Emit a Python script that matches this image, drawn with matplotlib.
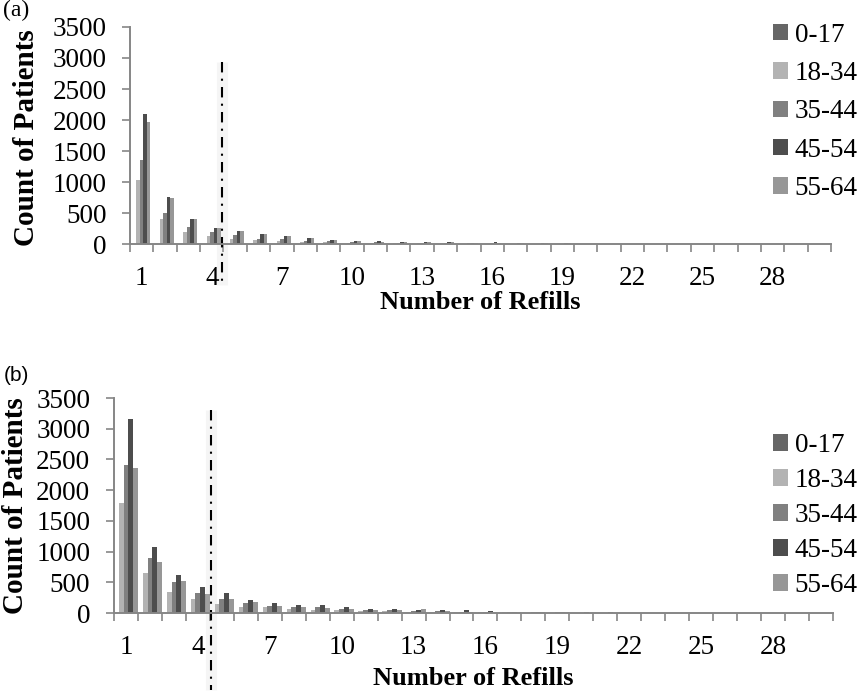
import matplotlib
matplotlib.use("Agg")
import matplotlib.pyplot as plt
import numpy as np

refills = list(range(1, 31))
age_groups = ["0-17", "18-34", "35-44", "45-54", "55-64"]
colors = ["#666666", "#b3b3b3", "#808080", "#4d4d4d", "#979797"]

# Panel (a)
a_0_17 = [6, 3, 2, 2, 1, 1, 1, 1, 0, 0, 0, 0, 0, 0, 0, 0, 0, 0, 0, 0, 0, 0, 0, 0, 0, 0, 0, 0, 0, 0]
a_18_34 = [1040, 410, 200, 130, 85, 65, 50, 40, 30, 22, 18, 15, 12, 10, 8, 6, 5, 4, 3, 3, 2, 2, 1, 1, 1, 1, 0, 0, 0, 0]
a_35_44 = [1360, 500, 270, 200, 145, 80, 75, 55, 45, 35, 28, 22, 18, 15, 12, 10, 8, 6, 5, 4, 3, 3, 2, 2, 1, 1, 1, 0, 0, 0]
a_45_54 = [2090, 760, 410, 260, 205, 165, 130, 95, 65, 53, 43, 37, 37, 28, 22, 25, 15, 15, 10, 8, 6, 5, 4, 3, 2, 2, 1, 1, 1, 0]
a_55_64 = [1970, 750, 410, 260, 205, 165, 125, 90, 65, 50, 40, 35, 32, 25, 20, 20, 14, 12, 9, 7, 5, 4, 3, 3, 2, 1, 1, 1, 0, 0]

# Panel (b)
b_0_17 = [8, 4, 3, 2, 1, 1, 1, 1, 0, 0, 0, 0, 0, 0, 0, 0, 0, 0, 0, 0, 0, 0, 0, 0, 0, 0, 0, 0, 0, 0]
b_18_34 = [1785, 645, 337, 228, 150, 105, 90, 60, 55, 45, 40, 25, 20, 18, 15, 12, 10, 8, 6, 5, 4, 3, 3, 2, 2, 1, 1, 1, 0, 0]
b_35_44 = [2405, 890, 500, 320, 225, 165, 120, 105, 90, 70, 55, 45, 35, 28, 22, 18, 15, 12, 10, 8, 6, 5, 4, 3, 2, 2, 1, 1, 1, 0]
b_45_54 = [3160, 1075, 613, 430, 320, 215, 165, 125, 130, 100, 65, 65, 55, 45, 45, 35, 20, 15, 15, 10, 15, 6, 5, 4, 3, 2, 2, 1, 1, 0]
b_55_64 = [2365, 835, 520, 310, 225, 185, 115, 100, 85, 70, 55, 45, 65, 28, 22, 18, 15, 12, 10, 8, 6, 5, 4, 3, 2, 2, 1, 1, 1, 0]

xtick_labels = ["1", "4", "7", "10", "13", "16", "19", "22", "25", "28"]
ytick_values = [0, 500, 1000, 1500, 2000, 2500, 3000, 3500]

plt.rcParams["font.family"] = ["Liberation Serif", "DejaVu Serif"]

fig = plt.figure(figsize=(8.57, 6.94), dpi=100)
ax_a = fig.add_axes([0.1517, 0.6484, 0.8180, 0.3127])
ax_b = fig.add_axes([0.1330, 0.1167, 0.8390, 0.3098])

spine_c = "#868686"


def draw(ax, series, bar_w, vline_x, vline_y, leg_anchor, leg_spacing):
    x = np.array(refills, dtype=float)
    n = len(series)
    handles = []
    for i, (vals, c, lab) in enumerate(zip(series, colors, age_groups)):
        off = (i - (n - 1) / 2) * bar_w
        h = ax.bar(x + off, vals, width=bar_w, color=c, label=lab, linewidth=0)
        handles.append(h)
    ax.set_xlim(0.5, 30.5)
    ax.set_ylim(0, 3500)
    ax.set_yticks(ytick_values)
    ax.set_yticklabels([str(v) for v in ytick_values])
    ax.set_xticks([int(t) for t in xtick_labels])
    ax.set_xticklabels(xtick_labels)
    ax.set_xticks(np.arange(0.5, 31.0, 1.0), minor=True)
    ax.tick_params(axis="x", which="major", length=0, pad=16, labelsize=19.5)
    ax.tick_params(axis="x", which="minor", length=6, width=1.2, color=spine_c, direction="out")
    ax.tick_params(axis="y", which="major", length=6, width=1.2, color=spine_c, pad=11, labelsize=19.5)
    for s in ["top", "right"]:
        ax.spines[s].set_visible(False)
    for s in ["left", "bottom"]:
        ax.spines[s].set_color(spine_c)
        ax.spines[s].set_linewidth(1.4)
    ax.set_ylabel("Count of Patients", fontsize=21, fontweight="bold", labelpad=4)
    ax.set_xlabel("Number of Refills", fontsize=19, fontweight="bold", labelpad=2)
    trans = ax.get_xaxis_transform()
    ax.plot([vline_x, vline_x], vline_y, transform=trans, color="#cccccc",
            linewidth=8, alpha=0.18, clip_on=False, solid_capstyle="butt")
    ax.plot([vline_x, vline_x], vline_y, transform=trans, color="black",
            linewidth=1.5, linestyle=(0, (5, 3, 1, 3)), clip_on=False)
    leg = fig.legend(handles=handles, labels=age_groups, loc="upper left",
                     bbox_to_anchor=leg_anchor, bbox_transform=fig.transFigure,
                     frameon=False, fontsize=19.5, handlelength=0.55, handleheight=0.55,
                     handletextpad=0.25, labelspacing=leg_spacing, borderpad=0, borderaxespad=0)
    return leg


draw(ax_a, [a_0_17, a_18_34, a_35_44, a_45_54, a_55_64], 0.15, 4.42, [0.84, -0.19],
     (0.902, 0.967), 0.49)
draw(ax_b, [b_0_17, b_18_34, b_35_44, b_45_54, b_55_64], 0.2, 4.55, [0.945, -0.36],
     (0.902, 0.376), 0.37)

ax_a.xaxis.set_label_coords(0.5, -0.215)
ax_b.xaxis.set_label_coords(0.5, -0.25)
ax_a.yaxis.set_label_coords(-0.128, 0.49)
ax_b.yaxis.set_label_coords(-0.118, 0.5)

fig.text(0.004, 1.0, "(a)", fontsize=17, va="top", ha="left")
fig.text(0.004, 0.472, "(b)", fontsize=15, va="top", ha="left", family=["Liberation Sans", "DejaVu Sans"])

fig.savefig("out.png", dpi=100)
